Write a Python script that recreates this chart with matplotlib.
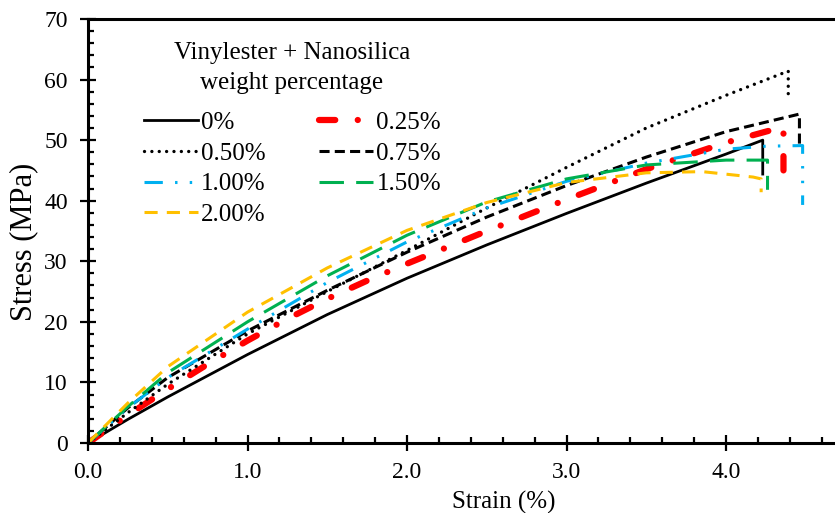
import matplotlib.pyplot as plt
from matplotlib.ticker import MultipleLocator

plt.rcParams['font.family'] = ['Liberation Serif', 'DejaVu Serif']

# Stress-strain data (strain %, stress MPa)
strain_0 = [0, 0.25, 0.5, 1.0, 1.5, 2.0, 2.5, 3.0, 3.5, 4.0, 4.23, 4.23]
stress_0 = [0, 3.9, 7.6, 14.6, 21.2, 27.2, 32.7, 37.9, 42.9, 47.7, 50.0, 44.4]

strain_025 = [0, 0.25, 0.5, 0.75, 1.0, 1.25, 1.5, 1.75, 2.0, 2.5, 3.0, 3.5, 4.0, 4.36, 4.36]
stress_025 = [0, 4.6, 8.9, 13.0, 16.9, 20.5, 23.8, 26.8, 29.6, 35.0, 40.2, 45.2, 49.6, 52.2, 45.0]

strain_050 = [0, 0.25, 0.5, 1.0, 1.5, 2.0, 2.5, 3.0, 3.5, 4.0, 4.39, 4.39]
stress_050 = [0, 5.0, 9.7, 18.0, 25.0, 31.8, 38.8, 45.5, 52.0, 57.4, 61.4, 57.3]

strain_075 = [0, 0.25, 0.5, 1.0, 1.5, 2.0, 2.5, 3.0, 3.5, 4.0, 4.46, 4.46]
stress_075 = [0, 5.8, 10.8, 18.5, 25.2, 31.5, 37.3, 42.5, 47.2, 51.4, 54.3, 48.7]

strain_100 = [0, 0.25, 0.5, 1.0, 1.5, 2.0, 2.5, 3.0, 3.5, 4.0, 4.25, 4.48, 4.48]
stress_100 = [0, 5.8, 10.8, 18.8, 26.5, 33.2, 38.8, 43.2, 46.2, 48.5, 49.0, 49.1, 39.3]

strain_150 = [0, 0.25, 0.5, 1.0, 1.5, 2.0, 2.5, 3.0, 3.5, 4.0, 4.26, 4.26]
stress_150 = [0, 6.0, 11.6, 20.0, 27.6, 34.3, 39.8, 43.6, 45.9, 46.7, 46.7, 41.8]

strain_200 = [0, 0.25, 0.5, 1.0, 1.5, 2.0, 2.5, 3.0, 3.5, 3.85, 4.17, 4.22, 4.22]
stress_200 = [0, 6.6, 12.6, 21.6, 28.9, 35.1, 39.7, 43.0, 44.6, 44.8, 43.9, 43.6, 41.4]

fig = plt.figure(figsize=(8.35, 5.13), dpi=100)
ax = fig.add_axes([0.1054, 0.1365, 0.8946, 0.8265])

lines = {}
lines["0%"], = ax.plot(strain_0, stress_0, color="black", lw=2.0)
lines["0.25%"], = ax.plot(strain_025, stress_025, color="#FF0000", lw=4.5,
                          dashes=(2.6, 3.6, 0.01, 3.6), dash_capstyle="round")
lines["0.50%"], = ax.plot(strain_050, stress_050, color="black", lw=2.4,
                          dashes=(0.01, 2.2), dash_capstyle="round")
lines["0.75%"], = ax.plot(strain_075, stress_075, color="black", lw=2.2,
                          dashes=(3.3, 1.7))
lines["1.00%"], = ax.plot(strain_100, stress_100, color="#00B0F0", lw=2.2,
                          dashes=(6, 4, 0.8, 4, 0.8, 4))
lines["1.50%"], = ax.plot(strain_150, stress_150, color="#00B050", lw=2.2,
                          dashes=(8, 4))
lines["2.00%"], = ax.plot(strain_200, stress_200, color="#FFC000", lw=2.2,
                          dashes=(4.3, 3))

ax.set_xlim(0, 4.683)
ax.set_ylim(0, 70)
ax.xaxis.set_major_locator(MultipleLocator(1.0))
ax.xaxis.set_minor_locator(MultipleLocator(0.2))
ax.yaxis.set_major_locator(MultipleLocator(10))
ax.yaxis.set_minor_locator(MultipleLocator(2))
ax.xaxis.set_major_formatter(plt.FormatStrFormatter("%.1f"))

ax.spines["right"].set_visible(False)
for s in ["left", "bottom", "top"]:
    ax.spines[s].set_linewidth(2.2)
ax.tick_params(which="major", direction="inout", length=11, width=1.6, labelsize=17)
ax.tick_params(axis="x", which="major", pad=8)
ax.tick_params(axis="y", which="major", pad=9)
ax.tick_params(which="minor", direction="in", length=4, width=1.6)
ax.tick_params(top=False, right=False)

ax.set_xlabel("Strain (%)", fontsize=18)
ax.xaxis.set_label_coords(0.556, -0.112)
ax.set_ylabel("Stress (MPa)", fontsize=22)
ax.yaxis.set_label_coords(-0.067, 0.474)

# legend title as separate text so its spacing can match
ax.text(0.273, 0.884, "Vinylester + Nanosilica\nweight percentage", transform=ax.transAxes,
        ha="center", va="center", fontsize=18, linespacing=1.45, multialignment="center")

order = ["0%", "0.50%", "1.00%", "2.00%", "0.25%", "0.75%", "1.50%"]
leg = ax.legend([lines[k] for k in order], order, ncol=2, loc="upper left",
                bbox_to_anchor=(0.045, 0.835), frameon=False, fontsize=18,
                handlelength=2.16, handletextpad=0.12, columnspacing=2.15,
                labelspacing=0.33)

fig.savefig("out.png", dpi=100)
